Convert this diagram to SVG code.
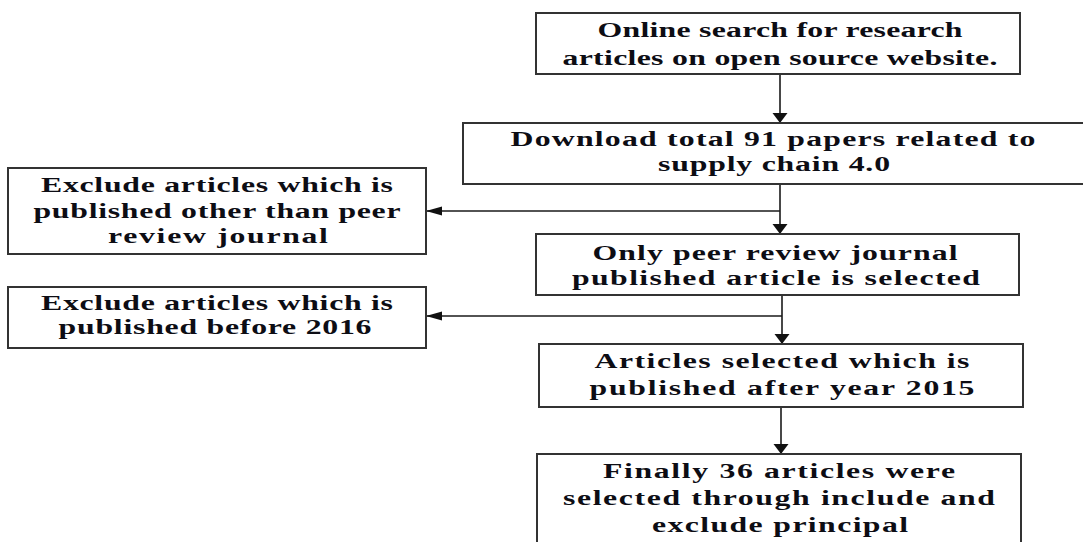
<svg xmlns="http://www.w3.org/2000/svg" width="1083" height="542" viewBox="0 0 1083 542">
<defs>
<style>
.box{fill:#fff;stroke:#333;stroke-width:2}
.t{font-family:"Liberation Serif","Times New Roman",serif;font-weight:bold;font-size:20.5px;fill:#0d0d14;text-anchor:middle}
.ln{fill:none;stroke:#1a1a1a;stroke-width:1.6}
</style>
<marker id="arrV" markerUnits="userSpaceOnUse" markerWidth="10" markerHeight="16" refX="10" refY="7.5" orient="auto" overflow="visible">
<path d="M0,0 L10,7.5 L0,15 z" fill="#111"/>
</marker>
<marker id="arrH" markerUnits="userSpaceOnUse" markerWidth="17" markerHeight="9" refX="16" refY="4.5" orient="auto" overflow="visible">
<path d="M0,0 L16,4.5 L0,9 z" fill="#111"/>
</marker>
</defs>
<rect width="1083" height="542" fill="#fff"/>

<g id="connectors">
<line class="ln" x1="780" y1="74" x2="780" y2="123" marker-end="url(#arrV)"/>
<line class="ln" x1="780" y1="184" x2="780" y2="234" marker-end="url(#arrV)"/>
<line class="ln" x1="780" y1="211" x2="426" y2="211" marker-end="url(#arrH)"/>
<line class="ln" x1="782" y1="295" x2="782" y2="344" marker-end="url(#arrV)"/>
<line class="ln" x1="782" y1="316" x2="426" y2="316" marker-end="url(#arrH)"/>
<line class="ln" x1="781" y1="407" x2="781" y2="454" marker-end="url(#arrV)"/>
</g>

<g id="n1">
<rect class="box" x="536" y="13" width="484" height="61"/>
<text class="t" transform="translate(780,37) scale(1.55,1)" textLength="235.5" lengthAdjust="spacing">Online search for research</text>
<text class="t" transform="translate(780,65) scale(1.55,1)" textLength="280.6" lengthAdjust="spacing">articles on open source website.</text>
</g>

<g id="n2">
<rect class="box" x="463" y="123" width="640" height="61"/>
<text class="t" transform="translate(773,146) scale(1.55,1)" textLength="338.7" lengthAdjust="spacing">Download total 91 papers related to</text>
<text class="t" transform="translate(774,171) scale(1.55,1)" textLength="149.7" lengthAdjust="spacing">supply chain 4.0</text>
</g>

<g id="n3">
<rect class="box" x="8" y="168" width="418" height="86"/>
<text class="t" transform="translate(217,192) scale(1.55,1)" textLength="227.1" lengthAdjust="spacing">Exclude articles which is</text>
<text class="t" transform="translate(217,218) scale(1.55,1)" textLength="236.8" lengthAdjust="spacing">published other than peer</text>
<text class="t" transform="translate(218,243) scale(1.55,1)" textLength="141.9" lengthAdjust="spacing">review journal</text>
</g>

<g id="n4">
<rect class="box" x="536" y="234" width="483" height="61"/>
<text class="t" transform="translate(775,260) scale(1.55,1)" textLength="235.5" lengthAdjust="spacing">Only peer review journal</text>
<text class="t" transform="translate(776,285) scale(1.55,1)" textLength="263.2" lengthAdjust="spacing">published article is selected</text>
</g>

<g id="n5">
<rect class="box" x="8" y="287" width="418" height="61"/>
<text class="t" transform="translate(217,310) scale(1.55,1)" textLength="227.1" lengthAdjust="spacing">Exclude articles which is</text>
<text class="t" transform="translate(215,334) scale(1.55,1)" textLength="201.9" lengthAdjust="spacing">published before 2016</text>
</g>

<g id="n6">
<rect class="box" x="539" y="344" width="484" height="63"/>
<text class="t" transform="translate(782,368) scale(1.55,1)" textLength="241.9" lengthAdjust="spacing">Articles selected  which is</text>
<text class="t" transform="translate(782,395) scale(1.55,1)" textLength="248.4" lengthAdjust="spacing">published after year 2015</text>
</g>

<g id="n7">
<rect class="box" x="537" y="454" width="484" height="110"/>
<text class="t" transform="translate(779,478) scale(1.55,1)" textLength="227.1" lengthAdjust="spacing">Finally 36 articles were</text>
<text class="t" transform="translate(779,505) scale(1.55,1)" textLength="278.7" lengthAdjust="spacing">selected through include and</text>
<text class="t" transform="translate(780,532) scale(1.55,1)" textLength="165.2" lengthAdjust="spacing">exclude principal</text>
</g>
</svg>
